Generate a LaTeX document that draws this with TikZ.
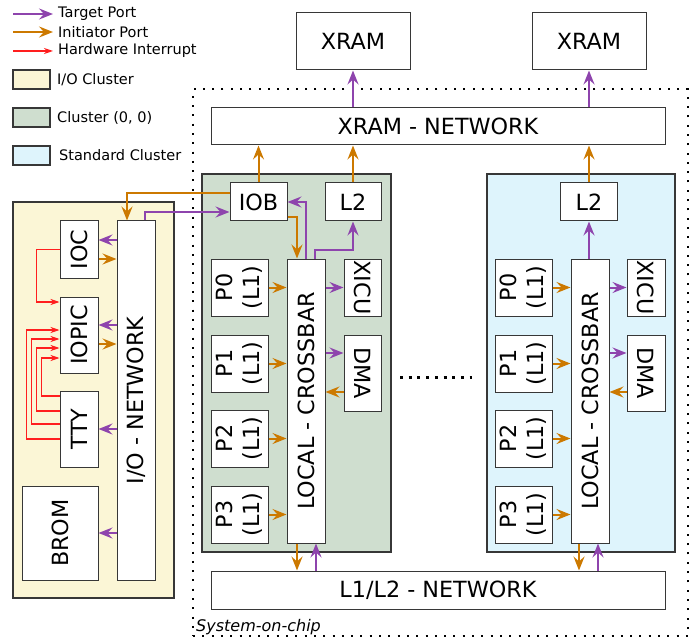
\documentclass[tikz,border=0pt]{standalone}
\usepackage{fontspec}
\setmainfont{DejaVu Sans}
\usetikzlibrary{arrows.meta}
\definecolor{tgt}{RGB}{142,68,173}
\definecolor{ini}{RGB}{204,121,0}
\definecolor{irq}{RGB}{255,30,30}
\definecolor{iofill}{RGB}{251,246,214}
\definecolor{czfill}{RGB}{207,222,207}
\definecolor{stdfill}{RGB}{222,244,252}
\definecolor{edge}{RGB}{55,55,55}
\begin{document}
\begin{tikzpicture}[x=1pt,y=-1pt,
  box/.style={draw=edge, line width=1pt, fill=white, inner sep=0pt},
  clus/.style={draw=edge, line width=1.1pt, inner sep=0pt},
  big/.style={font=\fontsize{22.3}{27}\selectfont, align=center, inner sep=0pt},
  leg/.style={font=\fontsize{14.5}{17}\selectfont, anchor=west, inner sep=0pt},
  tarr/.style={draw=tgt, line width=2pt, -{Stealth[length=14pt,width=11pt,inset=5pt]}},
  iarr/.style={draw=ini, line width=2pt, -{Stealth[length=14pt,width=11pt,inset=5pt]}},
  harr/.style={draw=irq, line width=1.1pt, -{Stealth[length=9pt,width=6pt,inset=3pt]}},
  socline/.style={draw=black, line width=2pt, dash pattern=on 2pt off 7.3pt}
]
\useasboundingbox (0,0) rectangle (696,639);

% ---------------- legend ----------------
\coordinate (la1) at (13,14);  \coordinate (lb1) at (53,14);
\coordinate (la2) at (13,32);  \coordinate (lb2) at (53,32);
\coordinate (la3) at (13,51);  \coordinate (lb3) at (53,51);
\draw[tarr] (la1) -- (lb1);
\draw[iarr] (la2) -- (lb2);
\draw[harr] (la3) -- (lb3);
\node[leg] (lt1) at (58,14) {Target Port};
\node[leg] (lt2) at (58,32) {Initiator Port};
\node[leg] (lt3) at (58,51) {Hardware Interrupt};
\node[clus, fill=iofill, minimum width=37, minimum height=19] (lg1) at (31.5,79.5) {};
\node[clus, fill=czfill, minimum width=37, minimum height=19] (lg2) at (31.5,117.5) {};
\node[clus, fill=stdfill, minimum width=37, minimum height=19] (lg3) at (31.5,155.5) {};
\node[leg] (lgt1) at (57,79.5) {I/O Cluster};
\node[leg] (lgt2) at (57,117.5) {Cluster (0, 0)};
\node[leg] (lgt3) at (59,155.5) {Standard Cluster};

% ---------------- system on chip ----------------
\node[socline, minimum width=495, minimum height=547, inner sep=0pt] (soc) at (440.5,362.5) {};
\node[font=\fontsize{16}{19}\selectfont\itshape, anchor=base west, inner sep=0pt] (soct) at (196,631) {System-on-chip};

% clusters
\node[clus, fill=iofill, minimum width=161, minimum height=396] (iocl) at (93.5,400) {};
\node[clus, fill=czfill, minimum width=189, minimum height=378] (cz) at (296.5,363) {};
\node[clus, fill=stdfill, minimum width=188, minimum height=378] (cs) at (581,363) {};

% top
\node[box, minimum width=114, minimum height=57] (XR1) at (353,41.5) {};
\node[big] at (XR1) {XRAM};
\node[box, minimum width=114, minimum height=57] (XR2) at (589,41.5) {};
\node[big] at (XR2) {XRAM};
\node[box, minimum width=454, minimum height=37] (XNET) at (438,126.5) {};
\node[big] at (XNET) {XRAM - NETWORK};
\node[box, minimum width=454, minimum height=38] (L1L2) at (438,590) {};
\node[big] at (L1L2) {L1/L2 - NETWORK};

% cluster (0,0)
\node[box, minimum width=57, minimum height=38] (IOB) at (258.5,202) {};
\node[big] at (IOB) {IOB};
\node[box, minimum width=56, minimum height=38] (L2a) at (353,202) {};
\node[big] at (L2a) {L2};
\node[box, minimum width=38, minimum height=284] (XBa) at (306,401) {};
\node[big, rotate=90] at (XBa) {LOCAL - CROSSBAR};
\node[box, minimum width=57, minimum height=57] (P0a) at (239.5,287.5) {};
\node[big, rotate=90] at (P0a) {P0\\(L1)};
\node[box, minimum width=57, minimum height=57] (P1a) at (239.5,363.5) {};
\node[big, rotate=90] at (P1a) {P1\\(L1)};
\node[box, minimum width=57, minimum height=57] (P2a) at (239.5,438.5) {};
\node[big, rotate=90] at (P2a) {P2\\(L1)};
\node[box, minimum width=57, minimum height=57] (P3a) at (239.5,514.5) {};
\node[big, rotate=90] at (P3a) {P3\\(L1)};
\node[box, minimum width=37, minimum height=57] (XIa) at (362.5,287.5) {};
\node[big, rotate=-90] at (XIa) {XICU};
\node[box, minimum width=37, minimum height=76] (DMAa) at (362.5,373) {};
\node[big, rotate=-90] at (DMAa) {DMA};

% standard cluster
\node[box, minimum width=57, minimum height=38] (L2b) at (589,202) {};
\node[big] at (L2b) {L2};
\node[box, minimum width=38, minimum height=284] (XBb) at (590,401) {};
\node[big, rotate=90] at (XBb) {LOCAL - CROSSBAR};
\node[box, minimum width=57, minimum height=57] (P0b) at (523.5,287.5) {};
\node[big, rotate=90] at (P0b) {P0\\(L1)};
\node[box, minimum width=57, minimum height=57] (P1b) at (523.5,363.5) {};
\node[big, rotate=90] at (P1b) {P1\\(L1)};
\node[box, minimum width=57, minimum height=57] (P2b) at (523.5,438.5) {};
\node[big, rotate=90] at (P2b) {P2\\(L1)};
\node[box, minimum width=57, minimum height=57] (P3b) at (523.5,514.5) {};
\node[big, rotate=90] at (P3b) {P3\\(L1)};
\node[box, minimum width=38, minimum height=57] (XIb) at (646,287.5) {};
\node[big, rotate=-90] at (XIb) {XICU};
\node[box, minimum width=38, minimum height=76] (DMAb) at (646,373) {};
\node[big, rotate=-90] at (DMAb) {DMA};

% I/O cluster
\node[box, minimum width=38, minimum height=359] (IONET) at (136,400.5) {};
\node[big, rotate=90] at (IONET) {I/O - NETWORK};
\node[box, minimum width=38, minimum height=57] (IOC) at (79,249.5) {};
\node[big, rotate=90] at (IOC) {IOC};
\node[box, minimum width=38, minimum height=76] (IOPIC) at (79,335) {};
\node[big, rotate=90] at (IOPIC) {IOPIC};
\node[box, minimum width=38, minimum height=76] (TTY) at (79,429) {};
\node[big, rotate=90] at (TTY) {TTY};
\node[box, minimum width=76, minimum height=94] (BROM) at (60,533) {};
\node[big, rotate=90] at (BROM) {BROM};

% dots between clusters
\coordinate (dA) at (400,377); \coordinate (dB) at (472,377);
\draw[line width=3pt, dash pattern=on 3pt off 5.7pt] (dA) -- (dB);

% ---------------- connectors ----------------
\draw[tarr] (XR1.south |- XNET.north) -- (XR1.south);
\draw[tarr] (XR2.south |- XNET.north) -- (XR2.south);
\draw[iarr] (IOB.north) -- (IOB.north |- XNET.south);
\draw[iarr] (L2a.north) -- (L2a.north |- XNET.south);
\draw[iarr] (L2b.north) -- (L2b.north |- XNET.south);

\draw[iarr] ([yshift=9pt]IOB.west) -| ([xshift=-9pt]IONET.north);
\draw[tarr] ([xshift=9pt]IONET.north) |- ([yshift=-10pt]IOB.west);
\draw[iarr] ([yshift=-15pt]IOB.east) -| ([xshift=-9pt]XBa.north);
\draw[tarr] (XBa.north) |- (IOB.east);
\draw[tarr] ([xshift=9pt]XBa.north) -- ++(0,-9) -| (L2a.south);

\foreach \p in {P0a,P1a,P2a,P3a}{\draw[iarr] (\p.east) -- (\p.east -| XBa.west);}
\foreach \p in {P0b,P1b,P2b,P3b}{\draw[iarr] (\p.east) -- (\p.east -| XBb.west);}
\draw[tarr] (XIa.west -| XBa.east) -- (XIa.west);
\draw[tarr] ([yshift=20pt]DMAa.west -| XBa.east) -- ([yshift=20pt]DMAa.west);
\draw[iarr] ([yshift=-19pt]DMAa.west) -- ([yshift=-19pt]DMAa.west -| XBa.east);
\draw[tarr] (XIb.west -| XBb.east) -- (XIb.west);
\draw[tarr] ([yshift=20pt]DMAb.west -| XBb.east) -- ([yshift=20pt]DMAb.west);
\draw[iarr] ([yshift=-19pt]DMAb.west) -- ([yshift=-19pt]DMAb.west -| XBb.east);

\draw[iarr] ([xshift=-9pt]XBa.south) -- ([xshift=-9pt]XBa.south |- L1L2.north);
\draw[tarr] ([xshift=10pt]XBa.south |- L1L2.north) -- ([xshift=10pt]XBa.south);
\draw[iarr] ([xshift=-11pt]XBb.south) -- ([xshift=-11pt]XBb.south |- L1L2.north);
\draw[tarr] ([xshift=8pt]XBb.south |- L1L2.north) -- ([xshift=8pt]XBb.south);
\draw[tarr] ([xshift=-1pt]XBb.north) -- ([xshift=-1pt]XBb.north |- L2b.south);

% I/O cluster ports
\draw[tarr] ([yshift=9.5pt]IOC.east -| IONET.west) -- ([yshift=9.5pt]IOC.east);
\draw[iarr] ([yshift=-9.5pt]IOC.east) -- ([yshift=-9.5pt]IOC.east -| IONET.west);
\draw[tarr] ([yshift=10pt]IOPIC.east -| IONET.west) -- ([yshift=10pt]IOPIC.east);
\draw[iarr] ([yshift=-9pt]IOPIC.east) -- ([yshift=-9pt]IOPIC.east -| IONET.west);
\draw[tarr] (TTY.east -| IONET.west) -- (TTY.east);
\draw[tarr] (BROM.east -| IONET.west) -- (BROM.east);

% interrupts
\draw[harr] (IOC.west) -- ++(-23,0) |- ([yshift=33pt]IOPIC.west);
\draw[harr] ([yshift=33pt]TTY.west) -- ++(-18,0) |- ([yshift=-23pt]IOPIC.west);
\draw[harr] ([yshift=18pt]TTY.west) -- ++(-23,0) |- ([yshift=-13pt]IOPIC.west);
\draw[harr] ([yshift=5pt]TTY.west) -- ++(-28,0) |- ([yshift=-4pt]IOPIC.west);
\draw[harr] ([yshift=-10pt]TTY.west) -- ++(-33,0) |- ([yshift=5pt]IOPIC.west);
\end{tikzpicture}
\end{document}
